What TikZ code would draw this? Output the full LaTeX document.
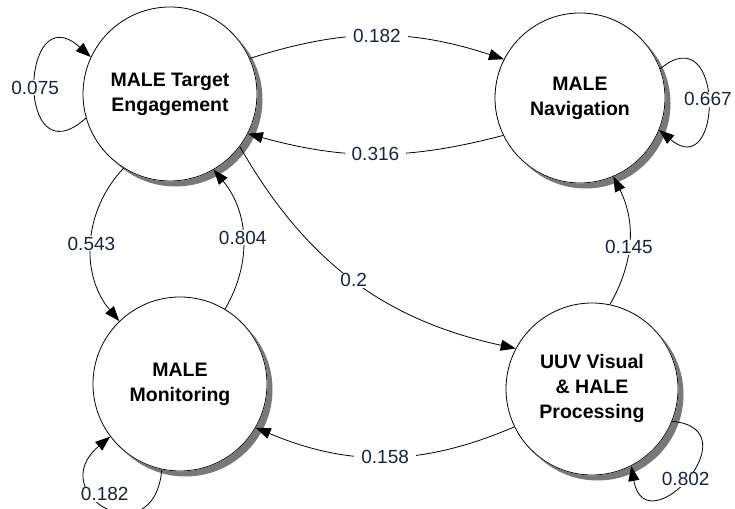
\documentclass[tikz,border=0pt]{standalone}
\usepackage{fontspec}
\setmainfont{Liberation Sans}
\usepackage{tikz}
\usetikzlibrary{arrows.meta}
\definecolor{lblcol}{RGB}{25,35,60}
\definecolor{shadowgray}{RGB}{120,120,120}

\begin{document}
\begin{tikzpicture}[x=1pt,y=1pt,
    state/.style={circle, draw, fill=white, line width=0.8pt, minimum size=#1,
      inner sep=0pt, align=center, font=\fontsize{19.5}{25}\selectfont\bfseries},
    lbl/.style={fill=white, inner xsep=7pt, inner ysep=1pt, text=lblcol,
      font=\fontsize{19}{23}\selectfont},
    >={Triangle[length=15pt,width=11pt]}, line width=0.8pt]
  \useasboundingbox (0,0) rectangle (735,508);
  \node[state=174pt] (TE) at (170,414) {MALE Target\\Engagement};
  \node[state=170pt] (NV) at (580,410) {MALE\\Navigation};
	\node[state=174pt] (MO) at (180,124) {MALE\\Monitoring};
  \node[state=172pt] (UP) at (592,119) {UUV Visual\\\& HALE\\Processing};
  % shadows: outside each state, on its lower right
  \foreach \cx/\cy/\r in {170/414/87,580/410/85,180/124/87,592/119/86}{
    \begin{scope}[even odd rule]
      \clip (0,0) rectangle (735,508) (\cx,\cy) circle (\r+0.4);
      \fill[shadowgray] (\cx+5.5,\cy-5.5) circle (\r);
    \end{scope}
  }
  % between the nodes
  \draw[->] (TE.24) to[bend left=18] node[lbl] {0.182} (NV.153);
  \draw[->] (NV.206) to[bend left=15] node[lbl] {0.316} (TE.333);
  \draw[->] (TE.238) to[bend right=42] node[lbl] {0.543} (MO.134);
  \draw[->] (MO.59) to[bend right=35] node[lbl] {0.804} (TE.300);
  \draw[->] (TE.323) to[bend right=24] node[lbl] {0.2} (UP.152);
  \draw[->] (UP.78) to[bend right=28] node[lbl,pos=0.45] {0.145} (NV.293);
  \draw[->] (UP.206) to[bend left=23] node[lbl] {0.158} (MO.330);
  % self loops
  \draw[->] (TE.196) to[out=222,in=138,looseness=4] node[lbl,pos=0.5] {0.075} (TE.155);
  \draw[->] (NV.20) to[out=40,in=-40,looseness=3.5] node[lbl,pos=0.5] {0.667} (NV.-22);
  \draw[->] (MO.258) to[out=265,in=220,looseness=3.7] node[lbl,pos=0.58,xshift=6pt,yshift=6pt] {0.182} (MO.217);
  \draw[->] (UP.338) to[out=-5,in=280,looseness=3.5] node[lbl,pos=0.52] {0.802} (UP.297);
\end{tikzpicture}
\end{document}
